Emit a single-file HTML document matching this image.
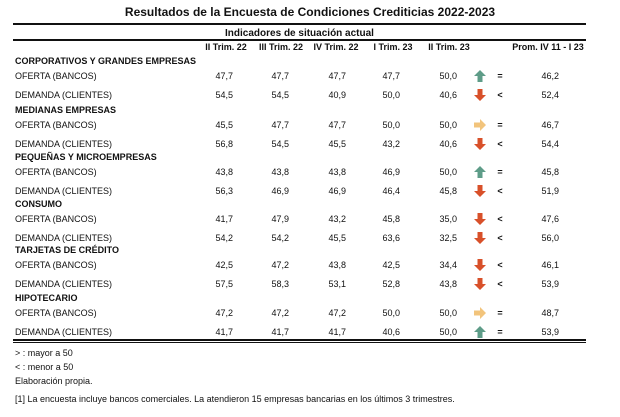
<!DOCTYPE html>
<html><head><meta charset="utf-8">
<style>
body{margin:0;background:#fff;width:620px;height:417px;position:relative;overflow:hidden;font-family:"Liberation Sans",sans-serif;color:#111}
.t{position:absolute;white-space:nowrap;font-size:9px;line-height:10px}
.b{font-weight:bold}
.r{text-align:right}
.c{text-align:center}
.ln{position:absolute;left:13px;width:573px;background:#111}
</style></head><body>
<div class="t b c" style="left:0;width:620px;top:5px;font-size:12px;line-height:14px">Resultados de la Encuesta de Condiciones Crediticias 2022-2023</div>
<div class="ln" style="top:23px;height:2px"></div>
<div class="t b c" style="left:13px;width:573px;top:28px;font-size:10px;line-height:11px">Indicadores de situación actual</div>
<div class="ln" style="top:39px;height:1.5px"></div>
<div class="ln" style="top:339px;height:1.5px"></div>
<div class="ln" style="top:342px;height:1px"></div>
<div class="t" style="left:15px;top:348px">&gt; : mayor a 50</div>
<div class="t" style="left:15px;top:362px">&lt; : menor a 50</div>
<div class="t" style="left:15px;top:376px">Elaboración propia.</div>
<div class="t" style="left:15px;top:394px">[1] La encuesta incluye bancos comerciales. La atendieron 15 empresas bancarias en los últimos 3 trimestres.</div>
<div id="tbl"></div>
<script>
const headers=["II Trim. 22","III Trim. 22","IV Trim. 22","I Trim. 23","II Trim. 23"];
const sections=["CORPORATIVOS Y GRANDES EMPRESAS","MEDIANAS EMPRESAS","PEQUEÑAS Y MICROEMPRESAS","CONSUMO","TARJETAS DE CRÉDITO","HIPOTECARIO"];
const oferta=[[47.7,47.7,47.7,47.7,50.0],[45.5,47.7,47.7,50.0,50.0],[43.8,43.8,43.8,46.9,50.0],[41.7,47.9,43.2,45.8,35.0],[42.5,47.2,43.8,42.5,34.4],[47.2,47.2,47.2,50.0,50.0]];
const demanda=[[54.5,54.5,40.9,50.0,40.6],[56.8,54.5,45.5,43.2,40.6],[56.3,46.9,46.9,46.4,45.8],[54.2,54.2,45.5,63.6,32.5],[57.5,58.3,53.1,52.8,43.8],[41.7,41.7,41.7,40.6,50.0]];
const promO=[46.2,46.7,45.8,47.6,46.1,48.7];
const promD=[52.4,54.4,51.9,56.0,53.9,53.9];
const arrowO=["up","right","up","down","down","right"];
const arrowD=["down","down","down","down","down","up"];
const signO=["=","=","=","<","<","="];
const signD=["<","<","<","<","<","="];
const colRight=[233,289,346,400,457];
const hdrCenter=[226,281,336,393,449];
const tbl=document.getElementById('tbl');
function txt(s,x,y,cls,w,name){const d=document.createElement('div');d.className='t '+cls;d.textContent=s;
 if(cls.includes('r')){d.style.left=(x-w)+'px';d.style.width=w+'px';}
 else if(cls.includes('c')){d.style.left=(x-w/2)+'px';d.style.width=w+'px';}
 else d.style.left=x+'px';
 d.style.top=(y-5)+'px';


tbl.appendChild(d);return d;}
headers.forEach((h,i)=>txt(h,hdrCenter[i],47,'b c',60,'column-header'));
txt("Prom. IV 11 - I 23",548,47,'b c',80,'column-header');
const fmt=v=>v.toFixed(1).replace('.',',');
function arrow(dir,x,y){const ns='http://www.w3.org/2000/svg';const s=document.createElementNS(ns,'svg');
 s.setAttribute('width','12');s.setAttribute('height','12');s.style.position='absolute';s.style.left=(x-6)+'px';s.style.top=(y-6)+'px';
 const p=document.createElementNS(ns,'path');
 let d,c;
 if(dir==='up'){d='M6 0 L12 6 L8.5 6 L8.5 12 L3.5 12 L3.5 6 L0 6Z';c='#5e9c88';}
 else if(dir==='down'){d='M6 12 L12 6 L8.5 6 L8.5 0 L3.5 0 L3.5 6 L0 6Z';c='#d8502a';}
 else {d='M12 6 L6 0 L6 3.5 L0 3.5 L0 8.5 L6 8.5 L6 12Z';c='#f2c47c';}
 p.setAttribute('d',d);p.setAttribute('fill',c);s.appendChild(p);


tbl.appendChild(s);}
const secY=[61,110,157,204,250,298];
sections.forEach((sec,i)=>{
 const y=secY[i];
 txt(sec,15,y,'b',0,'section-header');
 const rows=[["OFERTA (BANCOS)",oferta[i],arrowO[i],signO[i],promO[i],y+15],["DEMANDA (CLIENTES)",demanda[i],arrowD[i],signD[i],promD[i],y+34]];
 rows.forEach(r=>{
  const ry=r[5];
  txt(r[0],15,ry,'',0,'row-label');
  r[1].forEach((v,j)=>txt(fmt(v),colRight[j],ry,'r',40,'value-cell'));
  arrow(r[2],480,ry);
  txt(r[3],500,ry,'b c',10,'comparison-sign');
  txt(fmt(r[4]),559,ry,'r',40,'average-value');
 });
});
</script>
</body></html>
